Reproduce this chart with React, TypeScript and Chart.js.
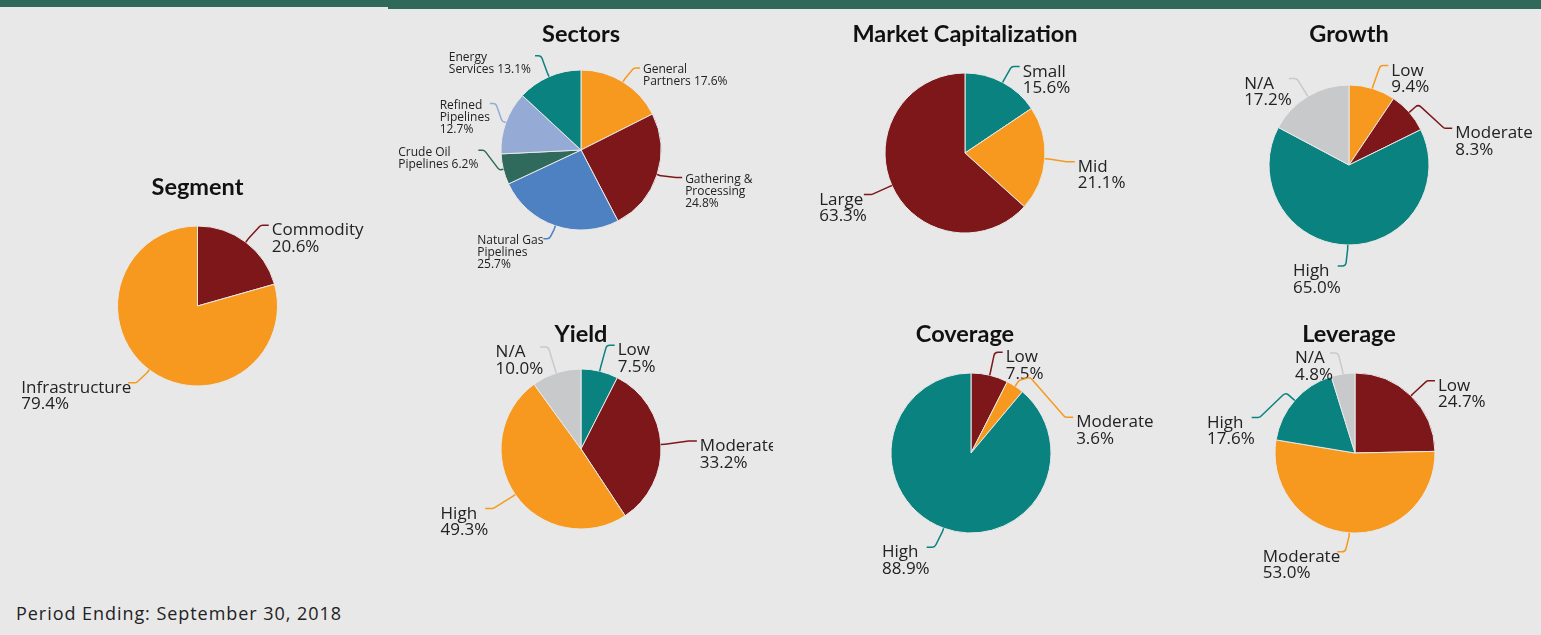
import React, { useEffect, useRef } from 'react';
import { Chart, PieController, ArcElement } from 'chart.js';

Chart.register(PieController, ArcElement);

const LABEL_FONT = '"Open Sans", "Noto Sans", sans-serif';
const TITLE_FONT = 'bold 23.5px Lato, "Open Sans", sans-serif';

const ORANGE = '#f7991f';
const MAROON = '#7e1719';
const TEAL = '#0a8280';
const GRAY = '#c8c9cb';
const BLUE = '#4e81c1';
const LIGHT_BLUE = '#95aad4';
const DARK_GREEN = '#2f6a5c';
const BG = '#e8e8e8';
const BAND = '#2f695a';

// ---------- data ----------
const segmentCategories = ['Commodity', 'Infrastructure'];
const segmentValues = [20.6, 79.4];

const sectorCategories = [
  'General Partners',
  'Gathering & Processing',
  'Natural Gas Pipelines',
  'Crude Oil Pipelines',
  'Refined Pipelines',
  'Energy Services',
];
const sectorValues = [17.6, 24.8, 25.7, 6.2, 12.7, 13.1];

const marketCapCategories = ['Small', 'Mid', 'Large'];
const marketCapValues = [15.6, 21.1, 63.3];

const growthCategories = ['Low', 'Moderate', 'High', 'N/A'];
const growthValues = [9.4, 8.3, 65.0, 17.2];

const yieldCategories = ['Low', 'Moderate', 'High', 'N/A'];
const yieldValues = [7.5, 33.2, 49.3, 10.0];

const coverageCategories = ['Low', 'Moderate', 'High'];
const coverageValues = [7.5, 3.6, 88.9];

const leverageCategories = ['Low', 'Moderate', 'High', 'N/A'];
const leverageValues = [24.7, 53.0, 17.6, 4.8];

const footerText = 'Period Ending: September 30, 2018';

// ---------- layout ----------
type Callout = {
  dx: number;
  dy: number;
  side: 1 | -1;
  wrap?: number[];
  inline?: boolean;
  stub?: number;
  via?: [number, number][];
  tx?: number;
};

type PanelCfg = {
  title: string;
  titleX: number;
  titleY: number;
  box: [number, number, number, number];
  cx: number;
  cy: number;
  categories: string[];
  values: number[];
  colors: string[];
  small?: boolean;
  callouts: Callout[];
};

const panels: PanelCfg[] = [
  {
    title: 'Segment', titleX: 197.5, titleY: 195, box: [0, 150, 388, 290], cx: 197.5, cy: 306,
    categories: segmentCategories, values: segmentValues, colors: [MAROON, ORANGE],
    callouts: [
      { dx: 23, dy: -17, side: 1 },
      { dx: -21, dy: 13, side: -1 },
    ],
  },
  {
    title: 'Sectors', titleX: 581, titleY: 42, box: [388, 12, 392, 290], cx: 581, cy: 150,
    categories: sectorCategories, values: sectorValues,
    colors: [ORANGE, MAROON, BLUE, DARK_GREEN, LIGHT_BLUE, TEAL], small: true,
    callouts: [
      { dx: 17, dy: -14, side: 1, wrap: [1, 1], inline: true },
      { dx: 25, dy: 3, side: 1, wrap: [2, 1] },
      { dx: -12, dy: 13, side: -1, wrap: [2, 1] },
      { dx: -25, dy: -19, side: -1, wrap: [2, 1], inline: true },
      { dx: -16, dy: -19, side: -1, wrap: [1, 1] },
      { dx: -14, dy: -21, side: -1, wrap: [1, 1], inline: true, tx: -4 },
    ],
  },
  {
    title: 'Market Capitalization', titleX: 965, titleY: 42, box: [780, 12, 400, 290], cx: 965, cy: 153,
    categories: marketCapCategories, values: marketCapValues, colors: [TEAL, ORANGE, MAROON],
    callouts: [
      { dx: 17, dy: -16, side: 1 },
      { dx: 30, dy: 3, side: 1 },
      { dx: -28, dy: 9, side: -1 },
    ],
  },
  {
    title: 'Growth', titleX: 1349, titleY: 42, box: [1180, 12, 361, 300], cx: 1349, cy: 165,
    categories: growthCategories, values: growthValues, colors: [ORANGE, MAROON, TEAL, GRAY],
    callouts: [
      { dx: 16, dy: -23, side: 1 },
      { dx: 43, dy: 16, side: 1, stub: 12 },
      { dx: -10, dy: 21, side: -1 },
      { dx: -19, dy: -18, side: -1 },
    ],
  },
  {
    title: 'Yield', titleX: 581, titleY: 342, box: [388, 312, 385, 270], cx: 581, cy: 449,
    categories: yieldCategories, values: yieldValues, colors: [TEAL, MAROON, ORANGE, GRAY],
    callouts: [
      { dx: 15, dy: -26, side: 1 },
      { dx: 36, dy: -3.5, side: 1 },
      { dx: -30, dy: 14, side: -1 },
      { dx: -16, dy: -26, side: -1 },
    ],
  },
  {
    title: 'Coverage', titleX: 965, titleY: 342, box: [780, 312, 377, 280], cx: 971, cy: 453,
    categories: coverageCategories, values: coverageValues, colors: [MAROON, ORANGE, TEAL],
    callouts: [
      { dx: 13, dy: -23, side: 1 },
      { dx: 58, dy: 31, side: 1, stub: 7, via: [[15, -9]] },
      { dx: -17, dy: 19, side: -1 },
    ],
  },
  {
    title: 'Leverage', titleX: 1349, titleY: 342, box: [1180, 312, 361, 280], cx: 1355, cy: 453,
    categories: leverageCategories, values: leverageValues, colors: [MAROON, ORANGE, TEAL, GRAY],
    callouts: [
      { dx: 24, dy: -15, side: 1 },
      { dx: -12, dy: 19, side: -1 },
      { dx: -43, dy: 17, side: -1, stub: 12 },
      { dx: -13, dy: -21, side: -1 },
    ],
  },
];

function calloutLines(name: string, value: number, c: Callout): string[] {
  const v = value.toFixed(1) + '%';
  const words = name.split(' ');
  const wrap = c.wrap ?? [words.length];
  const lines: string[] = [];
  let idx = 0;
  wrap.forEach((n) => {
    lines.push(words.slice(idx, idx + n).join(' '));
    idx += n;
  });
  if (idx < words.length) lines[lines.length - 1] += ' ' + words.slice(idx).join(' ');
  if (c.inline) lines[lines.length - 1] += ' ' + v;
  else lines.push(v);
  return lines;
}

function PiePanel({ cfg }: { cfg: PanelCfg }) {
  const ref = useRef<HTMLCanvasElement | null>(null);
  useEffect(() => {
    let chart: Chart | null = null;
    let cancelled = false;
    const [bx, by, bw, bh] = cfg.box;
    const R = 80.5;
    const plugin = {
      id: 'callouts',
      afterDraw(ch: any) {
        const ctx: CanvasRenderingContext2D = ch.ctx;
        const meta = ch.getDatasetMeta(0);
        ctx.save();
        ctx.fillStyle = '#111';
        ctx.font = TITLE_FONT;
        ctx.textAlign = 'center';
        ctx.textBaseline = 'alphabetic';
        ctx.fillText(cfg.title, cfg.titleX - bx, cfg.titleY - by);

        const fs = cfg.small ? 12 : 17;
        const lh = cfg.small ? 11.7 : 16.5;
        const cap = fs * 0.714;
        const hl = cfg.small ? 6 : 8;
        meta.data.forEach((arc: any, i: number) => {
          const c = cfg.callouts[i];
          if (!c) return;
          const p = arc.getProps(['x', 'y', 'startAngle', 'endAngle', 'outerRadius'], true);
          const mid = (p.startAngle + p.endAngle) / 2;
          const ux = Math.cos(mid);
          const uy = Math.sin(mid);
          const ex = p.x + ux * p.outerRadius;
          const ey = p.y + uy * p.outerRadius;
          const pts: [number, number][] = [[ex, ey]];
          const stub = c.stub ?? 4;
          if (stub > 0) pts.push([ex + ux * stub, ey + uy * stub]);
          (c.via || []).forEach(([vx, vy]) => pts.push([ex + vx, ey + vy]));
          const Ex = ex + c.dx;
          const Ey = ey + c.dy;
          pts.push([Ex - c.side * hl, Ey]);
          pts.push([Ex, Ey]);
          ctx.strokeStyle = cfg.colors[i];
          ctx.lineWidth = 1.5;
          ctx.lineJoin = 'round';
          ctx.beginPath();
          ctx.moveTo(pts[0][0], pts[0][1]);
          for (let k = 1; k < pts.length - 1; k++) {
            ctx.arcTo(pts[k][0], pts[k][1], pts[k + 1][0], pts[k + 1][1], 4);
          }
          ctx.lineTo(pts[pts.length - 1][0], pts[pts.length - 1][1]);
          ctx.stroke();

          ctx.font = `${fs}px ${LABEL_FONT}`;
          ctx.fillStyle = '#222';
          ctx.textAlign = 'left';
          const lines = calloutLines(cfg.categories[i], cfg.values[i], c);
          const w = Math.max(...lines.map((s) => ctx.measureText(s).width));
          const left = c.side > 0 ? Ex + 3 + (c.tx ?? 0) : Ex + (cfg.small ? 0 : 3) + (c.tx ?? 0) - w;
          const top = Ey - (cfg.small ? 3 : 2);
          lines.forEach((s, k) => ctx.fillText(s, left, top + cap + k * lh));
        });
        ctx.restore();
      },
    };
    const make = () => {
      if (cancelled || !ref.current) return;
      chart = new Chart(ref.current, {
        type: 'pie',
        data: {
          labels: cfg.categories,
          datasets: [
            {
              data: cfg.values,
              backgroundColor: cfg.colors,
              borderColor: BG,
              borderWidth: 1,
            },
          ],
        },
        options: {
          animation: false,
          responsive: false,
          devicePixelRatio: 1,
          events: [],
          layout: {
            padding: {
              left: cfg.cx - R - bx,
              top: cfg.cy - R - by,
              right: bx + bw - cfg.cx - R,
              bottom: by + bh - cfg.cy - R,
            },
          },
          plugins: { legend: { display: false }, tooltip: { enabled: false } },
        } as any,
        plugins: [plugin],
      });
    };
    const fonts = (document as any).fonts;
    if (fonts && fonts.load) {
      Promise.all([
        fonts.load('17px "Open Sans"'),
        fonts.load('bold 23px Lato'),
      ]).then(make, make);
    } else make();
    return () => {
      cancelled = true;
      if (chart) chart.destroy();
    };
  }, [cfg]);
  const [bx, by, bw, bh] = cfg.box;
  return (
    <canvas
      ref={ref}
      width={bw}
      height={bh}
      style={{ position: 'absolute', left: bx, top: by, width: bw, height: bh }}
    />
  );
}

export default function App() {
  return (
    <div
      style={{
        position: 'fixed',
        left: 0,
        top: 0,
        width: 1541,
        height: 635,
        background: BG,
        overflow: 'hidden',
      }}
    >
      <div style={{ position: 'absolute', left: 0, top: 0, width: 388, height: 7, background: BAND }} />
      <div style={{ position: 'absolute', left: 388, top: 0, width: 1153, height: 9, background: BAND }} />
      {panels.map((p) => (
        <PiePanel key={p.title} cfg={p} />
      ))}
      <div
        style={{
          position: 'absolute',
          left: 16,
          top: 605,
          fontFamily: LABEL_FONT,
          fontSize: 18,
          letterSpacing: '0.95px',
          lineHeight: '17px',
          color: '#222',
          whiteSpace: 'nowrap',
        }}
      >
        {footerText}
      </div>
    </div>
  );
}
